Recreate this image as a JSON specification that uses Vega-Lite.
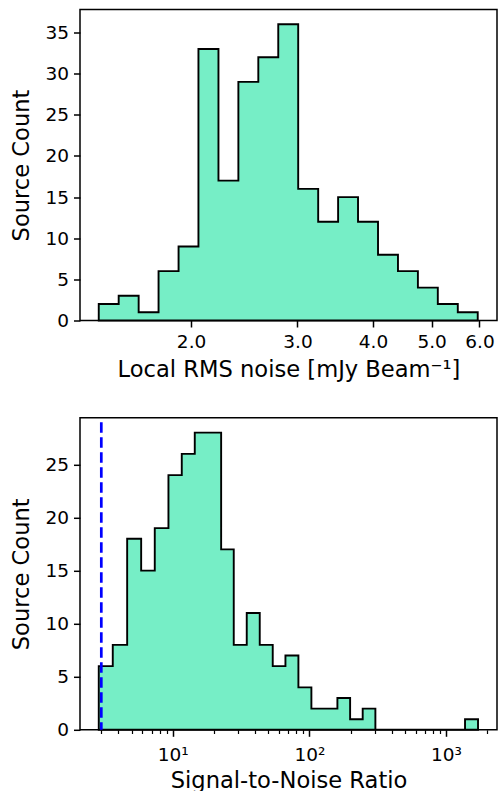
{
  "$schema": "https://vega.github.io/schema/vega-lite/v6.json",
  "padding": {"left": 10, "top": 8.5, "right": 3, "bottom": 5},
  "spacing": 97.3,
  "bounds": "flush",
  "datasets": {
    "rms": [
      {"lo": 1.407, "hi": 1.518, "n": 2},
      {"lo": 1.518, "hi": 1.638, "n": 3},
      {"lo": 1.638, "hi": 1.767, "n": 1},
      {"lo": 1.767, "hi": 1.907, "n": 6},
      {"lo": 1.907, "hi": 2.057, "n": 9},
      {"lo": 2.057, "hi": 2.220, "n": 33},
      {"lo": 2.220, "hi": 2.395, "n": 17},
      {"lo": 2.395, "hi": 2.584, "n": 29},
      {"lo": 2.584, "hi": 2.788, "n": 32},
      {"lo": 2.788, "hi": 3.008, "n": 36},
      {"lo": 3.008, "hi": 3.246, "n": 16},
      {"lo": 3.246, "hi": 3.502, "n": 12},
      {"lo": 3.502, "hi": 3.778, "n": 15},
      {"lo": 3.778, "hi": 4.077, "n": 12},
      {"lo": 4.077, "hi": 4.399, "n": 8},
      {"lo": 4.399, "hi": 4.746, "n": 6},
      {"lo": 4.746, "hi": 5.120, "n": 4},
      {"lo": 5.120, "hi": 5.525, "n": 2},
      {"lo": 5.525, "hi": 5.961, "n": 1}
    ],
    "snr": [
      {"lo": 2.874, "hi": 3.639, "n": 6},
      {"lo": 3.639, "hi": 4.638, "n": 8},
      {"lo": 4.638, "hi": 5.872, "n": 18},
      {"lo": 5.872, "hi": 7.385, "n": 15},
      {"lo": 7.385, "hi": 9.30, "n": 19},
      {"lo": 9.30, "hi": 11.64, "n": 24},
      {"lo": 11.64, "hi": 14.49, "n": 26},
      {"lo": 14.49, "hi": 18.10, "n": 28},
      {"lo": 18.10, "hi": 22.60, "n": 28},
      {"lo": 22.60, "hi": 27.95, "n": 17},
      {"lo": 27.95, "hi": 34.79, "n": 8},
      {"lo": 34.79, "hi": 43.31, "n": 11},
      {"lo": 43.31, "hi": 53.91, "n": 8},
      {"lo": 53.91, "hi": 66.78, "n": 6},
      {"lo": 66.78, "hi": 83.09, "n": 7},
      {"lo": 83.09, "hi": 103.4, "n": 4},
      {"lo": 103.4, "hi": 128.8, "n": 2},
      {"lo": 128.8, "hi": 160.3, "n": 2},
      {"lo": 160.3, "hi": 198.6, "n": 3},
      {"lo": 198.6, "hi": 245.5, "n": 1},
      {"lo": 245.5, "hi": 304.0, "n": 2},
      {"lo": 304.0, "hi": 377.3, "n": 0},
      {"lo": 377.3, "hi": 468.1, "n": 0},
      {"lo": 468.1, "hi": 580.8, "n": 0},
      {"lo": 580.8, "hi": 720.8, "n": 0},
      {"lo": 720.8, "hi": 894.6, "n": 0},
      {"lo": 894.6, "hi": 1110, "n": 0},
      {"lo": 1110, "hi": 1377, "n": 0},
      {"lo": 1377, "hi": 1714, "n": 1}
    ],
    "thr": [{"snr": 3}]
  },
  "vconcat": [
    {
      "width": 417,
      "height": 311,
      "data": {"name": "rms"},
      "transform": [{"fold": ["lo", "hi"], "as": ["side", "edge"]}],
      "mark": {"type": "area", "orient": "vertical", "interpolate": "linear", "fill": "#76EEC6", "fillOpacity": 1, "stroke": "#000000", "strokeWidth": 1.9, "strokeJoin": "miter"},
      "encoding": {
        "x": {
          "field": "edge", "type": "quantitative",
          "scale": {"type": "log", "domain": [1.31, 6.415], "nice": false, "zero": false},
          "axis": {"values": [2, 3, 4, 5, 6], "format": ".1f", "title": "Local RMS noise [mJy Beam⁻¹]", "titlePadding": 7.5}
        },
        "y": {
          "field": "n", "type": "quantitative", "stack": null,
          "scale": {"domain": [0, 37.8], "nice": false},
          "axis": {"values": [0, 5, 10, 15, 20, 25, 30, 35], "title": "Source Count"}
        },
        "order": [
          {"field": "edge", "type": "quantitative", "sort": "ascending"},
          {"field": "side", "type": "nominal", "sort": "ascending"}
        ]
      }
    },
    {
      "width": 417,
      "height": 312,
      "layer": [
        {
          "data": {"name": "snr"},
          "transform": [{"fold": ["lo", "hi"], "as": ["side", "edge"]}],
          "mark": {"type": "area", "orient": "vertical", "interpolate": "linear", "fill": "#76EEC6", "fillOpacity": 1, "stroke": "#000000", "strokeWidth": 1.9, "strokeJoin": "miter"},
          "encoding": {
            "x": {
              "field": "edge", "type": "quantitative",
              "scale": {"type": "log", "domain": [2.095, 2360], "nice": false, "zero": false},
              "axis": {"values": [10, 100, 1000], "labelExpr": "datum.value == 10 ? '10¹' : datum.value == 100 ? '10²' : '10³'", "title": "Signal-to-Noise Ratio", "labelPadding": 8.7, "titlePadding": 5.5, "orient": "bottom"}
            },
            "y": {
              "field": "n", "type": "quantitative", "stack": null,
              "scale": {"domain": [0, 29.4], "nice": false},
              "axis": {"values": [0, 5, 10, 15, 20, 25], "title": "Source Count"}
            },
            "order": [
              {"field": "edge", "type": "quantitative", "sort": "ascending"},
              {"field": "side", "type": "nominal", "sort": "ascending"}
            ]
          }
        },
        {
          "data": {"name": "thr"},
          "mark": {"type": "rule", "color": "#0000FF", "strokeWidth": 2.7, "strokeDash": [10.5, 4.5], "strokeDashOffset": 10.5},
          "encoding": {
            "x": {
              "field": "snr", "type": "quantitative",
              "scale": {"type": "log", "domain": [2.095, 2360], "nice": false, "zero": false},
              "axis": {"orient": "bottom", "values": [3, 4, 5, 6, 7, 8, 9, 20, 30, 40, 50, 60, 70, 80, 90, 200, 300, 400, 500, 600, 700, 800, 900, 2000], "labels": false, "title": null, "tickSize": 3.7, "tickWidth": 1.2}
            }
          }
        }
      ],
      "resolve": {"axis": {"x": "independent"}}
    }
  ],
  "config": {
    "font": "DejaVu Sans",
    "view": {"stroke": "#000000", "strokeWidth": 1.5},
    "axis": {
      "grid": false,
      "domain": false,
      "labelFont": "DejaVu Sans",
      "titleFont": "DejaVu Sans",
      "labelFontSize": 18.5,
      "titleFontSize": 22.6,
      "titleFontWeight": "normal",
      "labelColor": "#000000",
      "titleColor": "#000000",
      "tickColor": "#000000",
      "tickWidth": 1.5,
      "tickSize": 6.5,
      "labelPadding": 5,
      "labelFlush": false,
      "labelOverlap": false,
      "labelBound": false
    },
    "axisY": {"titlePadding": 11},
    "axisX": {"titlePadding": 10}
  }
}
